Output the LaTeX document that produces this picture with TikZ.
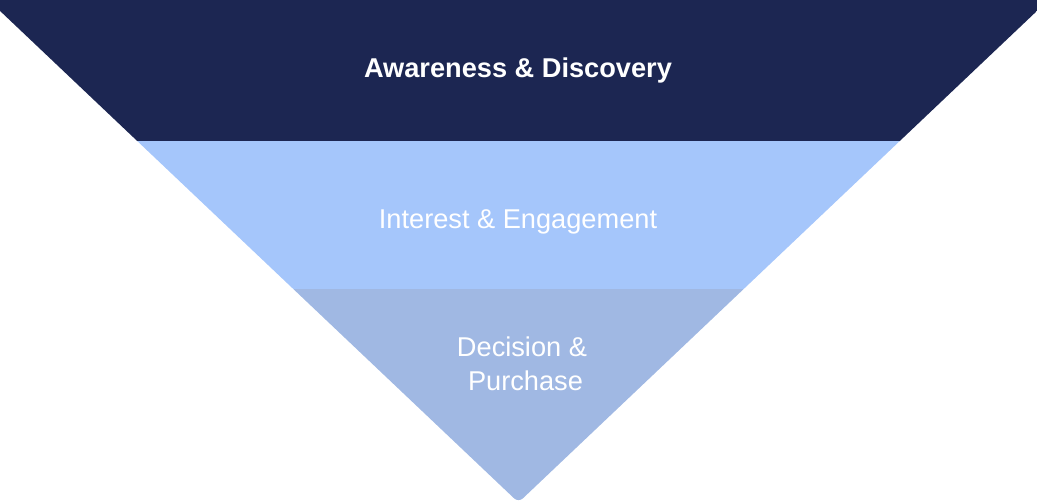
\documentclass[tikz,border=0pt]{standalone}
\usepackage{fontspec}
\setmainfont{Liberation Sans}
\definecolor{navy}{HTML}{1C2652}
\definecolor{lightblue}{HTML}{A5C6FB}
\definecolor{grayblue}{HTML}{A0B8E3}
\tikzset{
  band/.style={draw=none},
  label/.style={text=white, font=\fontsize{27.2}{34}\selectfont, inner sep=0pt, anchor=base},
  boldlabel/.style={label, font=\fontsize{27.2}{34}\selectfont\bfseries}
}
\begin{document}
\begin{tikzpicture}[x=1pt,y=-1pt]
  \useasboundingbox (0,0) rectangle (1037,501);
  \begin{scope}
    \clip[rounded corners=6pt] (-11.5,0) -- (1048.5,0) -- (518.5,502.5) -- cycle;
    \fill[band, navy] (-20,-10) rectangle (1060,141);
    \fill[band, lightblue] (-20,141) rectangle (1060,289);
    \fill[band, grayblue] (-20,289) rectangle (1060,520);
  \end{scope}
  \node[boldlabel] (awareness) at (518,77) {Awareness \& Discovery};
  \node[label] (interest) at (518,228) {Interest \& Engagement};
  \node[label] (decision) at (522,356) {Decision \&};
  \node[label] (purchase) at (525.5,390) {Purchase};
\end{tikzpicture}
\end{document}
